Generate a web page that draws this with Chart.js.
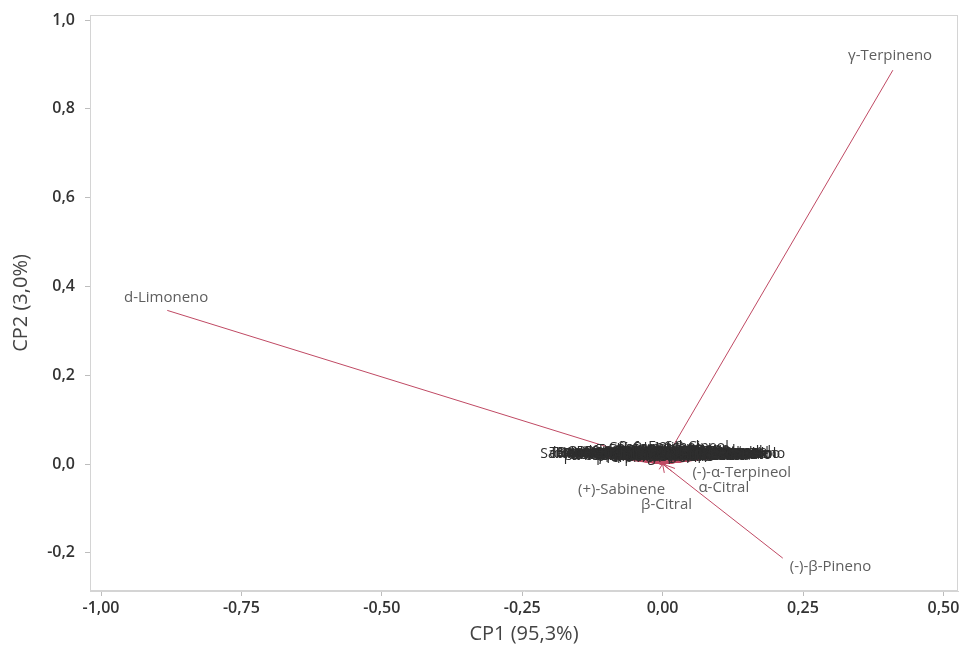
<!DOCTYPE html>
<html>
<head>
<meta charset="utf-8">
<script src="https://cdn.jsdelivr.net/npm/chart.js@4.4.1/dist/chart.umd.min.js"></script>
<style>
  html, body { margin: 0; padding: 0; background: #ffffff; }
  #wrap { width: 965px; height: 648px; position: relative; }
</style>
</head>
<body>
<div id="wrap"><canvas id="c"></canvas></div>
<script>
// ---- Data: loading plot (CP1 vs CP2) ----
const mainNames = ['d-Limoneno', 'γ-Terpineno', '(-)-β-Pineno', '(-)-α-Terpineol', 'α-Citral', '(+)-Sabinene', 'β-Citral'];
const mainPc1   = [-0.882, 0.410, 0.214, 0.022, 0.016, -0.006, 0.003];
const mainPc2   = [0.346, 0.887, -0.212, -0.010, -0.016, -0.012, -0.020];
// label anchor (centre of the text) in data units
const mainLabelPc1 = [-0.884, 0.405, 0.299, 0.141, 0.109, -0.073, 0.007];
const mainLabelPc2 = [0.374, 0.919, -0.232, -0.020, -0.054, -0.059, -0.092];

// minor compounds with small loadings (overlapping labels near the origin)
const minorNames = ['α-Pineno', 'Canfeno', 'Mirceno', 'Octanal', 'α-Felandreno', 'Δ-3-Careno', 'α-Terpineno', 'p-Cimeno',
  'trans-β-Ocimeno', 'Terpinoleno', 'Linalol', 'Nonanal', 'Citronelal', 'Terpinen-4-ol', 'Decanal', 'Nerol', 'Geraniol',
  'Acetato de nerilo', 'Acetato de geranilo', 'β-Cariofileno', 'α-Bergamoteno', 'α-Humuleno', 'β-Bisaboleno', 'Valenceno',
  'Germacreno D', 'Dodecanal', 'Undecanal', 'Citronelol', 'Óxido de limoneno', 'Carvona', 'Perilaldeído', 'trans-Carveol',
  'cis-Carveol', 'α-Tujeno', 'α-Copaeno', 'β-Elemeno', 'Nootkatona', 'β-Farneseno', 'α-Sinensal', 'β-Sinensal', 'Octanol',
  'Decanol', 'Borneol', '1,8-Cineol', 'Cânfora', 'Fenchol', 'Timol', 'Carvacrol',
  'Sabineno hidrato', 'Isopulegol', 'Mentol', 'Metil antranilato', 'Acetato de octila', 'Acetato de linalila',
  'Acetato de citronelila', 'Hexanal', 'Heptanal', 'Tetradecanal', 'β-Felandreno', 'γ-Elemeno', 'δ-Cadineno', 'α-Cubebeno',
  'Biciclogermacreno', 'Espatulenol', 'Elemol', 'α-Bisabolol', 'Farnesol', 'Nerolidol', 'Tricicleno', 'α-Fencheno',
  'Isoterpinoleno', 'p-Cimen-8-ol', 'Criptona', 'Cuminaldeído', 'Piperitona', 'Hexanol', 'Nonanol', 'Dodecanol',
  'Octanoato de etila', 'Butanoato de etila', 'Carvenona', 'β-Copaeno', 'α-Muuroleno', 'γ-Muuroleno', 'β-Selineno',
  'α-Selineno', 'Aromadendreno', 'Ledeno', 'Calameneno', 'Globulol', 'Viridiflorol', 'Guaiol', 'β-Eudesmol', 'Cedrol'];
const minorPc1 = [-0.150, -0.121, -0.108, -0.095, -0.086, -0.078, -0.069, -0.062, -0.055, -0.049, -0.044, -0.038, -0.033,
  -0.028, -0.024, -0.019, -0.015, -0.011, -0.007, -0.003, 0.001, 0.005, 0.009, 0.013, 0.017, 0.021, 0.025, 0.030, 0.035,
  0.040, 0.046, 0.052, 0.058, 0.065, 0.072, 0.080, 0.088, 0.097, 0.107, 0.118, 0.130, 0.155, -0.142, 0.060, -0.050, 0.020,
  -0.090, 0.100,
  -0.118, -0.136, 0.148, 0.098, -0.072, 0.032, -0.020, -0.128, 0.140, 0.062, -0.098, 0.132, 0.074, -0.058, 0.012, 0.084,
  0.142, -0.112, 0.124, -0.004, -0.146, 0.150, -0.082, 0.044, -0.036, 0.068, 0.094, -0.122, 0.128, 0.110, -0.010, 0.026,
  -0.066, 0.056, -0.104, -0.042, 0.090, 0.110, 0.008, -0.140, 0.136, 0.038, -0.026, -0.086, 0.078, 0.122];
const minorPc2 = [0.022, 0.026, 0.020, 0.028, 0.018, 0.024, 0.031, 0.016, 0.025, 0.021, 0.034, 0.019, 0.027, 0.014, 0.023,
  0.030, 0.018, 0.025, 0.021, 0.036, 0.016, 0.026, 0.020, 0.029, 0.017, 0.024, 0.032, 0.019, 0.027, 0.015, 0.023, 0.030,
  0.018, 0.025, 0.021, 0.028, 0.017, 0.024, 0.020, 0.026, 0.022, 0.023, 0.024, 0.038, 0.037, 0.039, 0.022, 0.021,
  0.023, 0.027, 0.025, 0.020, 0.024, 0.022, 0.026, 0.021, 0.027, 0.025, 0.019, 0.022, 0.028, 0.024, 0.031, 0.020,
  0.023, 0.026, 0.021, 0.027, 0.024, 0.022, 0.020, 0.025, 0.029, 0.018, 0.023, 0.025, 0.021, 0.027, 0.022, 0.018,
  0.026, 0.033, 0.022, 0.019, 0.024, 0.026, 0.021, 0.025, 0.023, 0.020, 0.028, 0.024, 0.019, 0.025];

const xTickValues = [-1.00, -0.75, -0.50, -0.25, 0.00, 0.25, 0.50];
const xTickLabels = ['-1,00', '-0,75', '-0,50', '-0,25', '0,00', '0,25', '0,50'];
const yTickValues = [-0.2, 0.0, 0.2, 0.4, 0.6, 0.8, 1.0];
const yTickLabels = ['-0,2', '0,0', '0,2', '0,4', '0,6', '0,8', '1,0'];
const xTitle = 'CP1 (95,3%)';
const yTitle = 'CP2 (3,0%)';

// ---- build datasets: one line from origin to each loading ----
const LINE_COLOR = '#c04a64';
const datasets = [];
function addVector(x, y) {
  datasets.push({
    type: 'scatter',
    data: [{x: 0, y: 0}, {x: x, y: y}],
    showLine: true,
    borderColor: LINE_COLOR,
    borderWidth: 1,
    pointRadius: 0,
    pointHoverRadius: 0,
    fill: false
  });
}
minorPc1.forEach((v, i) => addVector(v, minorPc2[i]));
mainPc1.forEach((v, i) => addVector(v, mainPc2[i]));

const labelPlugin = {
  id: 'labels',
  beforeDraw(chart) {
    const ctx = chart.ctx;
    ctx.save();
    ctx.fillStyle = '#ffffff';
    ctx.fillRect(0, 0, chart.width, chart.height);
    ctx.restore();
  },
  afterDatasetsDraw(chart) {
    const ctx = chart.ctx, xs = chart.scales.x, ys = chart.scales.y;
    ctx.save();
    ctx.textAlign = 'center';
    ctx.textBaseline = 'middle';
    ctx.font = '14px "Open Sans"';
    ctx.fillStyle = '#2e2e2e';
    minorNames.forEach((n, i) => {
      ctx.fillText(n, xs.getPixelForValue(minorPc1[i]), ys.getPixelForValue(minorPc2[i]));
    });
    ctx.font = '15px "Open Sans"';
    ctx.fillStyle = '#5e5e5e';
    mainNames.forEach((n, i) => {
      ctx.fillText(n, xs.getPixelForValue(mainLabelPc1[i]), ys.getPixelForValue(mainLabelPc2[i]));
    });
    // frame
    const a = chart.chartArea;
    ctx.strokeStyle = '#d4d4d4';
    ctx.lineWidth = 1;
    ctx.strokeRect(Math.round(a.left) + 0.5, Math.round(a.top) + 0.5, Math.round(a.right - a.left) - 1, Math.round(a.bottom - a.top) - 1);
    ctx.restore();
  }
};

new Chart(document.getElementById('c'), {
  type: 'scatter',
  data: { datasets },
  plugins: [labelPlugin],
  options: {
    responsive: true,
    maintainAspectRatio: false,
    animation: false,
    layout: { padding: { left: 0, right: 7, top: 0, bottom: 0 } },
    plugins: { legend: { display: false }, tooltip: { enabled: false } },
    scales: {
      x: {
        type: 'linear',
        min: -1.0196,
        max: 0.526,
        afterBuildTicks: s => { s.ticks = xTickValues.map(v => ({ value: v })); },
        afterFit: s => { s.height = 57; },
        ticks: {
          callback: (v) => xTickLabels[xTickValues.findIndex(t => Math.abs(t - v) < 1e-9)],
          font: { family: '"Open Sans"', size: 16, weight: '600' },
          color: '#333333',
          padding: 3,
          maxRotation: 0,
          autoSkip: false
        },
        grid: { drawOnChartArea: false, drawTicks: true, tickLength: 5, color: '#bdbdbd' },
        border: { color: '#d4d4d4' },
        title: { display: true, text: xTitle, font: { family: '"Open Sans"', size: 20 }, color: '#444444', padding: { top: 0, bottom: 2 } }
      },
      y: {
        type: 'linear',
        min: -0.286,
        max: 1.0113,
        afterBuildTicks: s => { s.ticks = yTickValues.map(v => ({ value: v })); },
        afterFit: s => { s.width = 90; s.paddingTop = 15; },
        ticks: {
          callback: (v) => yTickLabels[yTickValues.findIndex(t => Math.abs(t - v) < 1e-9)],
          font: { family: '"Open Sans"', size: 16, weight: '600' },
          color: '#333333',
          padding: 10,
          autoSkip: false
        },
        grid: { drawOnChartArea: false, drawTicks: true, tickLength: 5, color: '#bdbdbd' },
        border: { color: '#d4d4d4' },
        title: { display: true, text: yTitle, font: { family: '"Open Sans"', size: 20 }, color: '#444444', padding: { top: 9, bottom: 0 } }
      }
    }
  }
});
</script>
</body>
</html>
